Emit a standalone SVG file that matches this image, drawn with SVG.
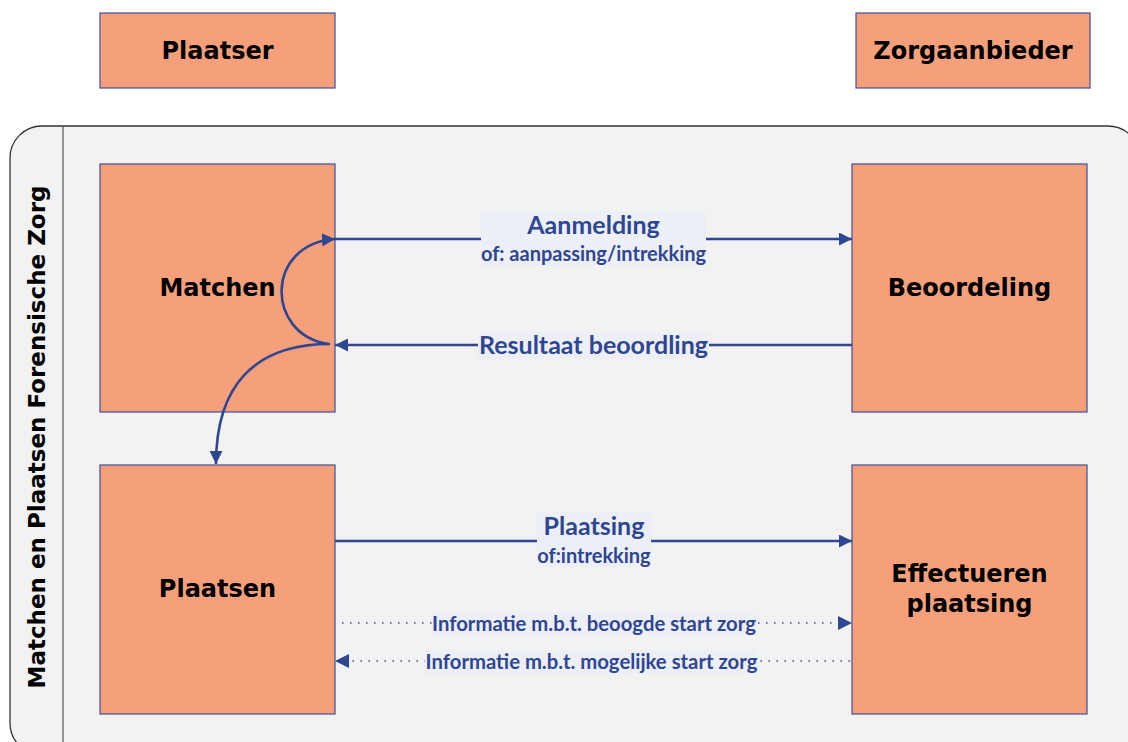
<svg xmlns="http://www.w3.org/2000/svg" width="1128" height="742" viewBox="0 0 1128 742">
<defs>
<style>
.box{fill:#F5A07A;stroke:#3F4F9A;stroke-width:1.2}
.bt{font-family:"DejaVu Sans","Liberation Sans",sans-serif;font-weight:bold;font-size:24px;fill:#000;text-anchor:middle}
.ln{stroke:#2F4693;stroke-width:2.6;fill:none}
.dl{stroke:#2F4693;stroke-width:1.4;fill:none;stroke-dasharray:1.5 6.5}
.lb{fill:#ECEFF5}
.l1{font-family:Lato,"Open Sans",sans-serif;font-weight:bold;font-size:25px;fill:#2F4693;text-anchor:middle}
.l2{font-family:Lato,"Open Sans",sans-serif;font-weight:bold;font-size:20px;fill:#2F4693;text-anchor:middle}
.l3{font-family:Lato,"Open Sans",sans-serif;font-weight:bold;font-size:20.3px;fill:#2F4693;text-anchor:middle}
</style>
<marker id="ah" viewBox="0 0 10 10" refX="10" refY="5" markerWidth="5" markerHeight="5" orient="auto-start-reverse" markerUnits="strokeWidth">
<path d="M0,0 L10,5 L0,10 z" fill="#2F4693"/>
</marker>
<marker id="ahs" viewBox="0 0 10 10" refX="10" refY="5" markerWidth="10" markerHeight="10" orient="auto-start-reverse" markerUnits="strokeWidth">
<path d="M0,0 L10,5 L0,10 z" fill="#2F4693"/>
</marker>
</defs>
<rect width="1128" height="742" fill="#fff"/>
<g id="container">
<rect x="10" y="126" width="1130" height="629" rx="32" ry="32" fill="#F2F2F2" stroke="#333" stroke-width="1.3"/>
<line x1="63" y1="126" x2="63" y2="742" stroke="#555" stroke-width="1.2"/>
<text transform="translate(45,437) rotate(-90)" font-family="'DejaVu Sans','Liberation Sans',sans-serif" font-weight="bold" font-size="23" text-anchor="middle">Matchen en Plaatsen Forensische Zorg</text>
</g>
<g id="plaatser"><rect class="box" x="100" y="13" width="235" height="75"/><text class="bt" x="217.5" y="59">Plaatser</text></g>
<g id="zorgaanbieder"><rect class="box" x="856" y="13" width="234" height="75"/><text class="bt" x="973" y="59">Zorgaanbieder</text></g>
<g id="matchen"><rect class="box" x="100" y="164" width="235" height="248"/><text class="bt" x="217.5" y="296">Matchen</text></g>
<g id="beoordeling"><rect class="box" x="852" y="164" width="235" height="248"/><text class="bt" x="969.5" y="296">Beoordeling</text></g>
<g id="plaatsen"><rect class="box" x="100" y="465" width="235" height="249"/><text class="bt" x="217.5" y="597">Plaatsen</text></g>
<g id="effectueren"><rect class="box" x="852" y="465" width="235" height="249"/><text class="bt" x="969.5" y="582">Effectueren</text><text class="bt" x="969.5" y="612">plaatsing</text></g>
<g id="connectors">
<line class="ln" x1="335" y1="239" x2="852" y2="239" marker-end="url(#ah)"/>
<line class="ln" x1="852" y1="345" x2="335" y2="345" marker-end="url(#ah)"/>
<path class="ln" d="M328,344 C265,334 265,244 335,239" marker-end="url(#ah)"/>
<path class="ln" d="M330,344 C255,344 216,385 216,464" marker-end="url(#ah)"/>
<line class="ln" x1="335" y1="541" x2="852" y2="541" marker-end="url(#ah)"/>
<line class="dl" x1="342" y1="623" x2="852" y2="623" marker-end="url(#ahs)"/>
<line class="dl" x1="850" y1="661" x2="335" y2="661" marker-end="url(#ahs)"/>
<rect class="lb" x="481" y="211" width="225" height="55"/>
<text class="l1" x="593.5" y="234">Aanmelding</text>
<text class="l2" x="593.5" y="261">of: aanpassing/intrekking</text>
<rect class="lb" x="478" y="333" width="231" height="26"/>
<text class="l1" x="593.5" y="354">Resultaat beoordling</text>
<rect class="lb" x="537" y="512" width="114" height="55"/>
<text class="l1" x="594" y="535">Plaatsing</text>
<text class="l2" x="594" y="563">of:intrekking</text>
<rect class="lb" x="432" y="612" width="324" height="24"/>
<text class="l3" x="594" y="631">Informatie m.b.t. beoogde start zorg</text>
<rect class="lb" x="425" y="650" width="333" height="24"/>
<text class="l3" x="591.5" y="669">Informatie m.b.t. mogelijke start zorg</text>
</g>
</svg>
